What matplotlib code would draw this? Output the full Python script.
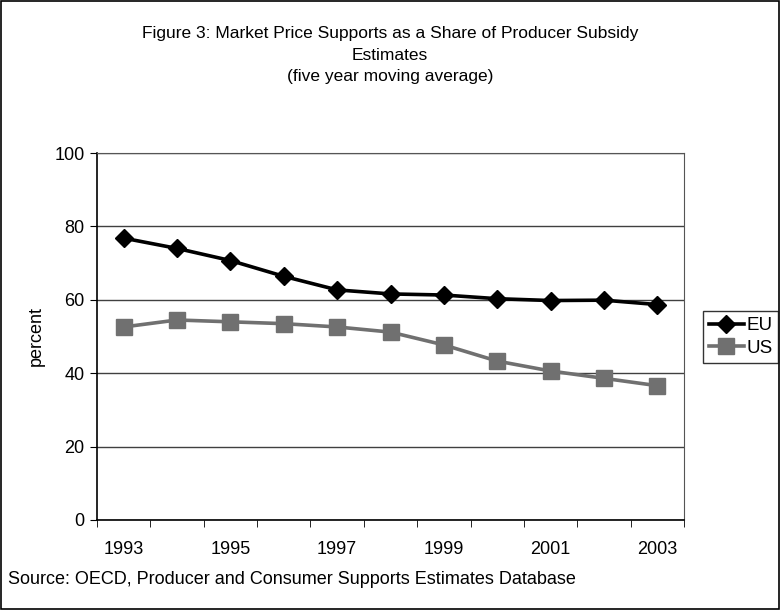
import numpy as np
import matplotlib.pyplot as plt

plt.rcParams['font.family'] = ['Liberation Sans', 'DejaVu Sans']

# five year moving average, percent of PSE
years = [1993, 1994, 1995, 1996, 1997, 1998, 1999, 2000, 2001, 2002, 2003]
eu = [76.8, 74.0, 70.7, 66.4, 62.7, 61.6, 61.3, 60.3, 59.8, 59.9, 58.7]
us = [52.6, 54.5, 54.0, 53.5, 52.6, 51.2, 47.7, 43.3, 40.6, 38.6, 36.6]
year_labels = ['1993', '', '1995', '', '1997', '', '1999', '', '2001', '', '2003']

fig = plt.figure(figsize=(7.8, 6.1), dpi=100)
ax = fig.add_axes([97 / 780, 90 / 610, 587 / 780, 367 / 610])

x = np.arange(len(years))
ax.plot(x, eu, color='black', lw=2.6, marker='D', ms=9, label='EU', zorder=3)
ax.plot(x, us, color='#707070', lw=2.6, marker='s', ms=11, label='US', zorder=3)

ax.set_xlim(-0.5, len(years) - 0.5)
ax.set_ylim(0, 100)
ax.set_yticks(range(0, 101, 20))
ax.yaxis.grid(True, color='#404040', lw=1)
ax.set_axisbelow(True)

# category labels centred, tick marks on the boundaries
ax.set_xticks(x)
ax.set_xticklabels(year_labels, fontsize=13)
ax.tick_params(axis='x', length=0, pad=15)
ax.set_xticks(np.arange(-0.5, len(years)), minor=True)
ax.tick_params(axis='x', which='minor', length=5, direction='out', color='black')
ax.tick_params(axis='y', labelsize=13, length=5, direction='out', pad=4)

for side in ['top', 'right']:
    ax.spines[side].set_color('#555555')
for side in ['left', 'bottom']:
    ax.spines[side].set_color('black')
    ax.spines[side].set_linewidth(1.2)

ax.set_ylabel('percent', fontsize=13, labelpad=7)

leg = fig.legend(loc='center right', bbox_to_anchor=(778 / 780, 1 - 337 / 610),
                 frameon=True, fancybox=False, edgecolor='black', fontsize=13.5,
                 handlelength=1.9, handletextpad=0.1, borderpad=0.3,
                 labelspacing=0.3, borderaxespad=0)
leg.get_frame().set_linewidth(1)

fig.text(0.5, 1 - 32 / 610,
         'Figure 3: Market Price Supports as a Share of Producer Subsidy\nEstimates\n(five year moving average)',
         ha='center', va='baseline', fontsize=12.5, linespacing=1.55)
fig.texts[-1].set_va('top')
fig.texts[-1].set_y(1 - 26 / 610)
fig.text(8 / 780, 1 - 580 / 610, 'Source: OECD, Producer and Consumer Supports Estimates Database',
         ha='left', va='center', fontsize=13)

# border round the whole chart
fig.patches.append(plt.Rectangle((0.001, 0.001), 0.998, 0.998, transform=fig.transFigure,
                                 fill=False, edgecolor='black', lw=1.2))

fig.savefig('out.png', dpi=100)
